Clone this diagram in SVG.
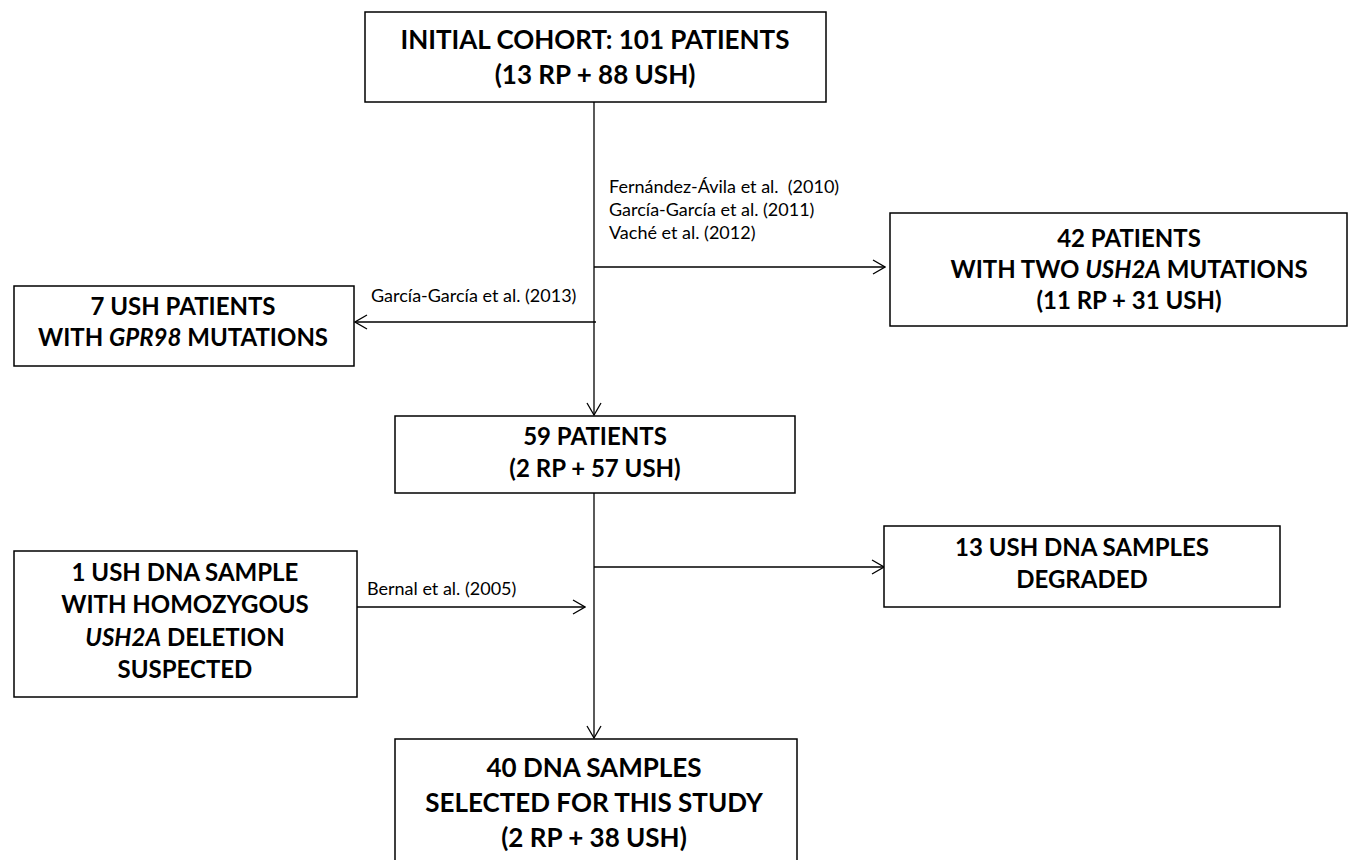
<svg xmlns="http://www.w3.org/2000/svg" width="1349" height="860" viewBox="0 0 1349 860">
<style>
.box{fill:#fff;stroke:#000;stroke-width:1.5}
.t{font-family:Lato,"Liberation Sans",sans-serif;font-weight:bold;font-size:24px;text-anchor:middle;fill:#000}
.big{font-size:26px}
.c{font-family:Lato,"Liberation Sans",sans-serif;font-size:18px;fill:#000;white-space:pre}
.ln{stroke:#000;stroke-width:1.3;fill:none}
</style>
<defs>
<marker id="a" viewBox="0 0 14 16" refX="13" refY="8" markerWidth="14" markerHeight="16" markerUnits="userSpaceOnUse" orient="auto">
<path d="M1,1 L13,8 L1,15" fill="none" stroke="#000" stroke-width="1.3"/>
</marker>
</defs>
<rect width="1349" height="860" fill="#fff"/>
<g id="connectors">
<line class="ln" x1="594" y1="102" x2="594" y2="415" marker-end="url(#a)"/>
<line class="ln" x1="594" y1="267" x2="885" y2="267" marker-end="url(#a)"/>
<line class="ln" x1="596" y1="322" x2="355" y2="322" marker-end="url(#a)"/>
<line class="ln" x1="594" y1="493" x2="594" y2="738" marker-end="url(#a)"/>
<line class="ln" x1="594" y1="567" x2="884" y2="567" marker-end="url(#a)"/>
<line class="ln" x1="357" y1="607" x2="585" y2="607" marker-end="url(#a)"/>
<text class="c" x="609" y="193" xml:space="preserve">Fernández-Ávila et al.  (2010)</text>
<text class="c" x="609" y="216">García-García et al. (2011)</text>
<text class="c" x="609" y="239">Vaché et al. (2012)</text>
<text class="c" x="371" y="302">García-García et al. (2013)</text>
<text class="c" x="367" y="595">Bernal et al. (2005)</text>
</g>
<g id="n1">
<rect class="box" x="365" y="12" width="461" height="90"/>
<text class="t big" x="595" y="49">INITIAL COHORT: 101 PATIENTS</text>
<text class="t big" x="595" y="84">(13 RP + 88 USH)</text>
</g>
<g id="n2">
<rect class="box" x="890" y="213" width="457" height="113"/>
<text class="t" x="1129" y="247">42 PATIENTS</text>
<text class="t" x="1129" y="278">WITH TWO <tspan font-style="italic">USH2A</tspan> MUTATIONS</text>
<text class="t" x="1129" y="309">(11 RP + 31 USH)</text>
</g>
<g id="n3">
<rect class="box" x="14" y="286" width="340" height="80"/>
<text class="t" x="183" y="315">7 USH PATIENTS</text>
<text class="t" x="183" y="346">WITH <tspan font-style="italic">GPR98</tspan> MUTATIONS</text>
</g>
<g id="n4">
<rect class="box" x="395" y="416" width="400" height="77"/>
<text class="t" x="595" y="445">59 PATIENTS</text>
<text class="t" x="595" y="477">(2 RP + 57 USH)</text>
</g>
<g id="n5">
<rect class="box" x="884" y="526" width="396" height="81"/>
<text class="t" x="1082" y="556">13 USH DNA SAMPLES</text>
<text class="t" x="1082" y="588">DEGRADED</text>
</g>
<g id="n6">
<rect class="box" x="14" y="551" width="343" height="146"/>
<text class="t" x="185" y="581">1 USH DNA SAMPLE</text>
<text class="t" x="185" y="613">WITH HOMOZYGOUS</text>
<text class="t" x="185" y="646"><tspan font-style="italic">USH2A</tspan> DELETION</text>
<text class="t" x="185" y="678">SUSPECTED</text>
</g>
<g id="n7">
<rect class="box" x="395" y="739" width="402" height="130"/>
<text class="t big" x="594" y="777">40 DNA SAMPLES</text>
<text class="t big" x="594" y="812">SELECTED FOR THIS STUDY</text>
<text class="t big" x="594" y="847">(2 RP + 38 USH)</text>
</g>
</svg>
